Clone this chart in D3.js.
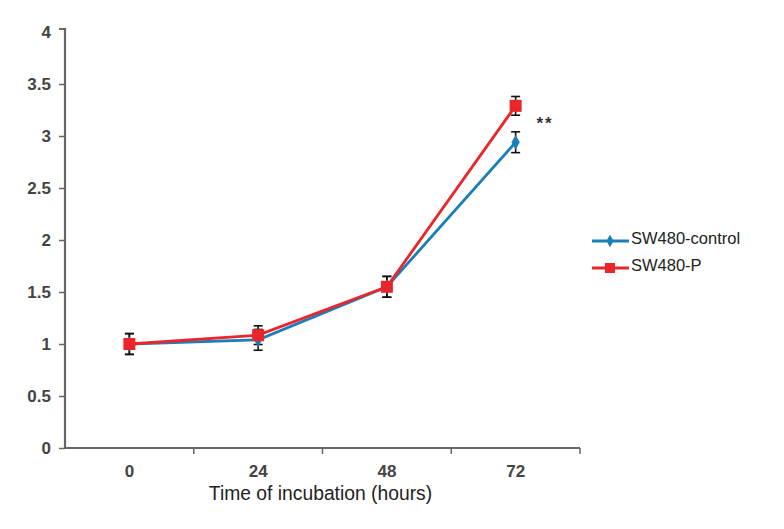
<!DOCTYPE html>
<html><head><meta charset="utf-8">
<script src="https://cdn.jsdelivr.net/npm/d3@7"></script>
<style>body{margin:0;background:#fff}svg{display:block}</style>
</head><body>
<svg id="c" width="784" height="529"></svg>
<script>
const categories = ["0","24","48","72"];
const controlValues = [1.0, 1.04, 1.55, 2.94];
const controlErrors = [0.10, 0.10, 0.10, 0.10];
const pValues = [1.0, 1.085, 1.55, 3.29];
const pErrors = [0.10, 0.09, 0.10, 0.09];
const yTicks = [0,0.5,1,1.5,2,2.5,3,3.5,4];
const seriesNames = ["SW480-control","SW480-P"];
const xTitle = "Time of incubation (hours)";
const sigLabel = "**";

(function(){
const svg = d3.select("#c");
const mLeft = 65, mRight = 580, mTop = 32, mBottom = 448;
const x = d3.scaleBand().domain(categories).range([mLeft, mRight]).padding(0);
const y = d3.scaleLinear().domain([0,4]).range([mBottom, mTop]);
const axisColor = "#666";
const font = "Liberation Sans, Arial, sans-serif";

// Y axis
const ya = svg.append("g").attr("transform",`translate(${mLeft},0)`)
  .call(d3.axisLeft(y).tickValues(yTicks).tickSize(6).tickFormat(d=>String(d)).tickPadding(8));
ya.select(".domain").attr("stroke",axisColor).attr("stroke-width",2.2).attr("d",`M-6,${mTop-3}H0V${mBottom}`);
ya.selectAll(".tick line").attr("stroke",axisColor).attr("stroke-width",1.5);
ya.selectAll("text").attr("fill","#444").attr("font-family",font)
  .attr("font-weight","bold").attr("font-size","17px");
ya.select(".tick:last-of-type line").remove();

// X axis
const xa = svg.append("g").attr("transform",`translate(0,${mBottom})`)
  .call(d3.axisBottom(x).tickSize(0).tickPadding(17));
xa.select(".domain").attr("stroke",axisColor).attr("stroke-width",2).attr("d",`M${mLeft},0H${mRight}`);
xa.selectAll("text").attr("fill","#444").attr("font-family",font)
  .attr("font-weight","bold").attr("font-size","17px");
categories.forEach(c=>{
  const bx = x(c) + x.bandwidth();
  xa.append("line").attr("x1",bx).attr("x2",bx).attr("y1",0).attr("y2",6)
    .attr("stroke",axisColor).attr("stroke-width",1.5);
});

svg.append("text").attr("x",(mLeft+mRight)/2-2).attr("y",500).attr("text-anchor","middle")
  .attr("font-family",font).attr("font-size","19.3px").attr("fill","#222")
  .text(xTitle);

const cx = c => x(c) + x.bandwidth()/2;
const blue = "#1a7fb8", red = "#e8262b";

function errorBars(vals, errs){
  const g = svg.append("g").attr("stroke","#111").attr("stroke-width",1.6);
  categories.forEach((c,i)=>{
    const X = cx(c), y1 = y(vals[i]+errs[i]), y2 = y(vals[i]-errs[i]);
    g.append("line").attr("x1",X).attr("x2",X).attr("y1",y1).attr("y2",y2);
    g.append("line").attr("x1",X-4.5).attr("x2",X+4.5).attr("y1",y1).attr("y2",y1);
    g.append("line").attr("x1",X-4.5).attr("x2",X+4.5).attr("y1",y2).attr("y2",y2);
  });
}
errorBars(controlValues, controlErrors);
errorBars(pValues, pErrors);

const line = d3.line().x((d,i)=>cx(categories[i])).y(d=>y(d));
svg.append("path").datum(controlValues).attr("d",line).attr("fill","none").attr("stroke",blue).attr("stroke-width",2.8);
svg.append("g").selectAll("path").data(controlValues).join("path")
  .attr("transform",(d,i)=>`translate(${cx(categories[i])},${y(d)})`)
  .attr("d",d3.symbol(d3.symbolDiamond,60)).attr("fill",blue);

svg.append("path").datum(pValues).attr("d",line).attr("fill","none").attr("stroke",red).attr("stroke-width",2.8);
svg.append("g").selectAll("rect").data(pValues).join("rect")
  .attr("x",(d,i)=>cx(categories[i])-6).attr("y",d=>y(d)-6).attr("width",12).attr("height",12).attr("fill",red);

svg.append("text").attr("x",545).attr("y",129).attr("text-anchor","middle")
  .attr("font-family",font).attr("font-size","17px").attr("font-weight","bold").attr("fill","#333")
  .attr("letter-spacing","2px").text(sigLabel);

// Legend
const lg = svg.append("g").attr("font-family",font).attr("font-size","16.5px").attr("fill","#222");
[[blue,"d"],[red,"s"]].forEach(([col,m],i)=>{
  const ly = 241 + i*27;
  lg.append("line").attr("x1",592).attr("x2",629).attr("y1",ly).attr("y2",ly).attr("stroke",col).attr("stroke-width",2.8);
  if(m==="d") lg.append("path").attr("transform",`translate(610,${ly})`).attr("d",d3.symbol(d3.symbolDiamond,45)).attr("fill",col);
  else lg.append("rect").attr("x",605).attr("y",ly-5).attr("width",10).attr("height",10).attr("fill",col);
  lg.append("text").attr("x",631).attr("y",ly+3).text(seriesNames[i]);
});
})();
</script>
</body></html>
